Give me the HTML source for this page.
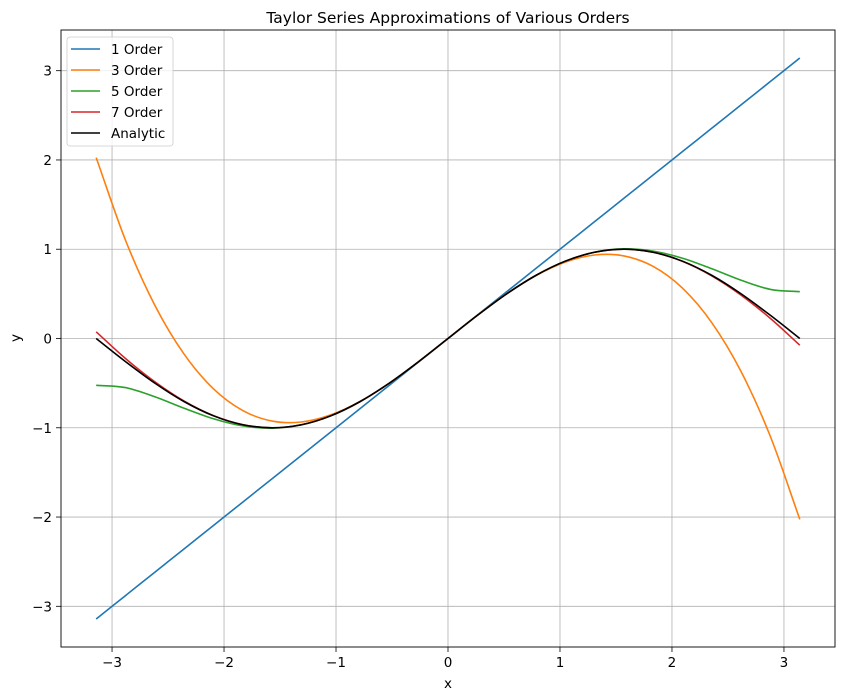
<!DOCTYPE html>
<html><head><meta charset="utf-8"><style>
body{margin:0;background:#fff;font-family:"Liberation Sans","DejaVu Sans",sans-serif}
svg{display:block}
text{font-family:"DejaVu Sans","Liberation Sans",sans-serif}
</style></head><body>
<svg id="chart" width="844" height="699" viewBox="0 0 844 699"></svg>
<script>
const xVals=[-3.1416,-2.8798,-2.618,-2.3562,-2.0944,-1.8326,-1.5708,-1.309,-1.0472,-0.7854,-0.5236,-0.2618,0,0.2618,0.5236,0.7854,1.0472,1.309,1.5708,1.8326,2.0944,2.3562,2.618,2.8798,3.1416];
const order1=[-3.1416,-2.8798,-2.618,-2.3562,-2.0944,-1.8326,-1.5708,-1.309,-1.0472,-0.7854,-0.5236,-0.2618,0,0.2618,0.5236,0.7854,1.0472,1.309,1.5708,1.8326,2.0944,2.3562,2.618,2.8798,3.1416];
const order3=[2.0261,1.1007,0.3727,-0.176,-0.5632,-0.8068,-0.9248,-0.9352,-0.8558,-0.7047,-0.4997,-0.2588,0,0.2588,0.4997,0.7047,0.8558,0.9352,0.9248,0.8068,0.5632,0.176,-0.3727,-1.1007,-2.0261];
const order5=[-0.5241,-0.5499,-0.6522,-0.7812,-0.899,-0.979,-1.0045,-0.9672,-0.8663,-0.7072,-0.5,-0.2588,0,0.2588,0.5,0.7072,0.8663,0.9672,1.0045,0.979,0.899,0.7812,0.6522,0.5499,0.5241];
const order7=[0.0752,-0.224,-0.485,-0.7012,-0.8639,-0.9652,-0.9998,-0.9659,-0.866,-0.7072,-0.5,-0.2588,0,0.2588,0.5,0.7072,0.866,0.9659,0.9998,0.9652,0.8639,0.7012,0.485,0.224,-0.0752];
const analytic=[0,-0.2588,-0.5,-0.7071,-0.866,-0.9659,-1,-0.9659,-0.866,-0.7071,-0.5,-0.2588,0,0.2588,0.5,0.7071,0.866,0.9659,1,0.9659,0.866,0.7071,0.5,0.2588,0];
const xTicks=[-3,-2,-1,0,1,2,3];
const yTicks=[-3,-2,-1,0,1,2,3];
const seriesNames=["1 Order","3 Order","5 Order","7 Order","Analytic"];
const seriesColors=["#1f77b4","#ff7f0e","#2ca02c","#d62728","#000000"];

const L=61,R=835,T=30,B=647,xmin=-3.4558,xmax=3.4558,ymin=-3.4558,ymax=3.4558;
const sx=v=>L+(v-xmin)/(xmax-xmin)*(R-L);
const sy=v=>B-(v-ymin)/(ymax-ymin)*(B-T);
const svg=document.getElementById('chart');
const NS='http://www.w3.org/2000/svg';
function mk(tag,attrs,parent){const e=document.createElementNS(NS,tag);for(const k in attrs)e.setAttribute(k,attrs[k]);(parent||svg).appendChild(e);return e;}

xTicks.forEach(t=>{
  const g=mk('line',{x1:sx(t),x2:sx(t),y1:T,y2:B,stroke:'#b0b0b0','stroke-width':0.8});
  
  
  const tk=mk('line',{x1:sx(t),x2:sx(t),y1:B,y2:B+5,stroke:'#000','stroke-width':0.8});
  
  
  const tx=mk('text',{x:sx(t),y:B+20,'text-anchor':'middle','font-size':13.5});
  tx.textContent=(t<0?'\u2212':'')+Math.abs(t);
  
  
});
yTicks.forEach(t=>{
  const g=mk('line',{x1:L,x2:R,y1:sy(t),y2:sy(t),stroke:'#b0b0b0','stroke-width':0.8});
  
  
  const tk=mk('line',{x1:L-5,x2:L,y1:sy(t),y2:sy(t),stroke:'#000','stroke-width':0.8});
  
  
  const tx=mk('text',{x:L-9,y:sy(t)+5,'text-anchor':'end','font-size':13.5});
  tx.textContent=(t<0?'\u2212':'')+Math.abs(t);
  
  
});

function pathFor(ys){
  const p=xVals.map((x,i)=>[sx(x),sy(ys[i])]);
  let d='M'+p[0][0]+','+p[0][1];
  for(let i=0;i<p.length-1;i++){
    const p0=i>0?p[i-1]:[2*p[0][0]-p[1][0],2*p[0][1]-p[1][1]];
    const p1=p[i],p2=p[i+1];
    const n=p.length-1;
    const p3=i+2<=n?p[i+2]:[2*p[n][0]-p[n-1][0],2*p[n][1]-p[n-1][1]];
    const c1=[p1[0]+(p2[0]-p0[0])/6,p1[1]+(p2[1]-p0[1])/6];
    const c2=[p2[0]-(p3[0]-p1[0])/6,p2[1]-(p3[1]-p1[1])/6];
    d+=' C'+c1+' '+c2+' '+p2;
  }
  return d;
}
const allSeries=[order1,order3,order5,order7,analytic];
const seriesIds=['series-order-1','series-order-3','series-order-5','series-order-7','series-analytic'];
allSeries.forEach((ys,i)=>{
  const p=mk('path',{d:pathFor(ys),fill:'none',stroke:seriesColors[i],'stroke-width':1.6});
  
  
});

const frame=mk('rect',{x:L,y:T,width:R-L,height:B-T,fill:'none',stroke:'#000','stroke-width':0.9});



const lg=mk('g',{});


mk('rect',{x:67,y:37,width:106,height:109,rx:3,fill:'#fff','fill-opacity':0.8,stroke:'#ccc','stroke-width':0.8},lg);
seriesNames.forEach((n,i)=>{
  const y=49+i*21;
  const e=mk('g',{},lg);
  
  
  mk('line',{x1:71,x2:100,y1:y,y2:y,stroke:seriesColors[i],'stroke-width':1.6},e);
  const t=mk('text',{x:111,y:y+5,'font-size':13.5},e);
  t.textContent=n;
});

const title=mk('text',{x:448,y:23,'text-anchor':'middle','font-size':15.5});
title.textContent='Taylor Series Approximations of Various Orders';


const xl=mk('text',{x:448,y:688,'text-anchor':'middle','font-size':13.5});
xl.textContent='x';


const yl=mk('text',{x:20,y:338,'text-anchor':'middle','font-size':13.5,transform:'rotate(-90 20 338)'});
yl.textContent='y';


</script>
</body></html>
